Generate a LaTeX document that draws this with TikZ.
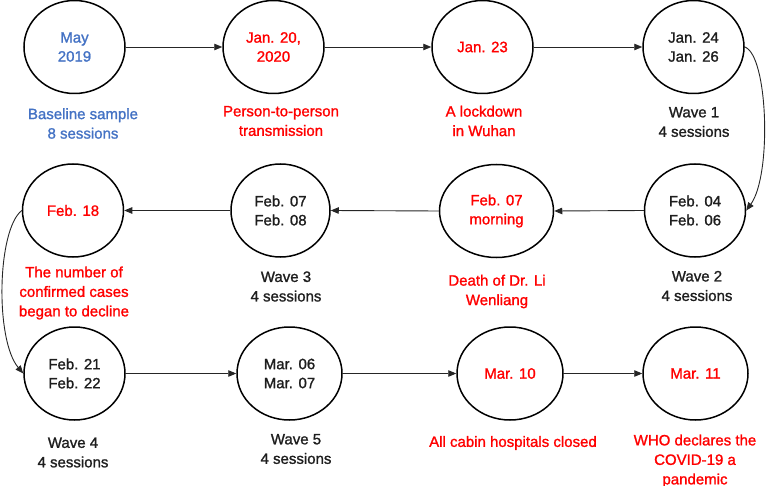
\documentclass[tikz,border=0pt]{standalone}
\usepackage{fontspec}
\setmainfont{Liberation Sans}[FakeBold=1.3]
\usetikzlibrary{shapes.geometric,arrows.meta}
\definecolor{ered}{RGB}{255,0,0}
\definecolor{eblue}{RGB}{68,114,196}
\definecolor{etext}{RGB}{30,30,30}
\begin{document}
\begin{tikzpicture}[x=1pt,y=-1pt,
  circ/.style={ellipse,draw=black,line width=1.5pt,minimum width=101pt,minimum height=93pt,inner sep=0pt,align=center,font=\fontsize{15}{19}\selectfont,text=etext},
  lab/.style={align=center,font=\fontsize{15}{19.5}\selectfont,text=etext,inner sep=0pt},
  conn/.style={line width=0.9pt,draw=black!85,-{Triangle[length=8pt,width=6.5pt]}}]
\useasboundingbox (0,0) rectangle (770,486);
% row 1
\node[circ,text=eblue] (may) at (74.5,47) {May\\2019};
\node[circ,text=ered] (j20) at (273.5,47) {Jan. 20,\\2020};
\node[circ,text=ered] (j23) at (482.5,47) {Jan. 23};
\node[circ] (j24) at (693.5,47) {Jan. 24\\Jan. 26};
\node[lab,text=eblue] (l1) at (83,123.5) {Baseline sample\\8 sessions};
\node[lab,text=ered] (l2) at (281,121) {Person-to-person\\transmission};
\node[lab,text=ered] (l3) at (484,121) {A lockdown\\in Wuhan};
\node[lab] (l4) at (694,122) {Wave 1\\4 sessions};
% row 2
\node[circ] (f04) at (695,210.5) {Feb. 04\\Feb. 06};
\node[circ,text=ered,minimum width=114pt] (f07m) at (496.5,211) {Feb. 07\\morning};
\node[circ,minimum width=99pt] (f07) at (280.5,210.5) {Feb. 07\\Feb. 08};
\node[circ,text=ered] (f18) at (73,210.5) {Feb. 18};
\node[lab] (l5) at (697,286) {Wave 2\\4 sessions};
\node[lab,text=ered] (l6) at (497,291.5) {Death of Dr. Li\\Wenliang};
\node[lab] (l7) at (286,286.5) {Wave 3\\4 sessions};
\node[lab,text=ered] (l8) at (74,293) {The number of\\confirmed cases\\began to decline};
% row 3
\node[circ] (f21) at (74.5,373.5) {Feb. 21\\Feb. 22};
\node[circ,minimum width=105pt] (m06) at (289.5,373.5) {Mar. 06\\Mar. 07};
\node[circ,text=ered,minimum width=106pt] (m10) at (510,373.5) {Mar. 10};
\node[circ,text=ered,minimum width=105pt] (m11) at (695.5,373.5) {Mar. 11};
\node[lab] (l9) at (73,452.5) {Wave 4\\4 sessions};
\node[lab] (l10) at (296,449) {Wave 5\\4 sessions};
\node[lab,text=ered] (l11) at (513,443) {All cabin hospitals closed};
\node[lab,text=ered] (l12) at (695,461) {WHO declares the\\COVID-19 a\\pandemic};
% connectors
\draw[conn] (may.east) -- (j20.west);
\draw[conn] (j20.east) -- (j23.west);
\draw[conn] (j23.east) -- (j24.west);
\draw[conn] (j24.east) .. controls (768,55) and (772,175) .. (f04.east);
\draw[conn] (f04.west) -- (f07m.east);
\draw[conn] (f07m.west) -- (f07.east);
\draw[conn] (f07.west) -- (f18.east);
\draw[conn] (f18.west) .. controls (-3,230) and (-5,340) .. (f21.west);
\draw[conn] (f21.east) -- (m06.west);
\draw[conn] (m06.east) -- (m10.west);
\draw[conn] (m10.east) -- (m11.west);
\end{tikzpicture}
\end{document}
